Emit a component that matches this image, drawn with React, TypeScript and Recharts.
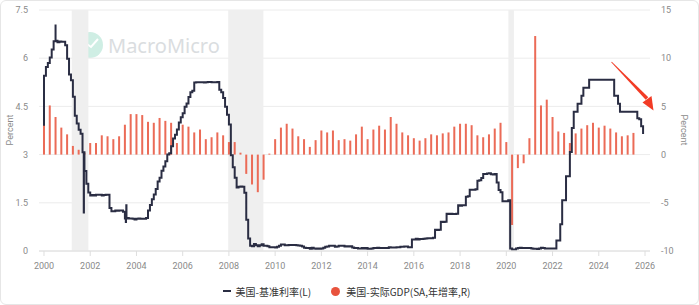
import React from "react";
import {
  ComposedChart,
  Bar,
  Line,
  XAxis,
  YAxis,
  CartesianGrid,
  ReferenceArea,
  Legend,
} from "recharts";

// monthly effective fed funds rate, Jan 2000 .. Dec 2025 (left axis, %)
const fedFunds = [
  5.45, 5.73, 5.85, 6.02, 6.27, 6.53, 6.54, 6.5, 6.52, 6.51, 6.51, 6.4,
  5.98, 5.49, 5.31, 4.8, 4.21, 3.97, 3.77, 3.65, 3.07, 2.49, 2.09, 1.82,
  1.73, 1.74, 1.73, 1.75, 1.75, 1.75, 1.73, 1.74, 1.75, 1.75, 1.34, 1.24,
  1.24, 1.26, 1.25, 1.26, 1.26, 1.22, 1.01, 1.03, 1.01, 1.01, 1.0, 0.98,
  1.0, 1.01, 1.0, 1.0, 1.0, 1.03, 1.26, 1.43, 1.61, 1.76, 1.93, 2.16,
  2.28, 2.5, 2.63, 2.79, 3.0, 3.04, 3.26, 3.5, 3.62, 3.78, 4.0, 4.16,
  4.29, 4.49, 4.59, 4.79, 4.94, 4.99, 5.24, 5.25, 5.25, 5.25, 5.25, 5.24,
  5.25, 5.26, 5.26, 5.25, 5.25, 5.25, 5.26, 5.02, 4.94, 4.76, 4.49, 4.24,
  3.94, 2.98, 2.61, 2.28, 1.98, 2.0, 2.01, 2.0, 1.81, 0.97, 0.39, 0.16,
  0.15, 0.22, 0.18, 0.15, 0.18, 0.21, 0.16, 0.16, 0.15, 0.12, 0.12, 0.12,
  0.11, 0.13, 0.16, 0.2, 0.2, 0.18, 0.18, 0.19, 0.19, 0.19, 0.19, 0.18,
  0.17, 0.16, 0.14, 0.1, 0.09, 0.09, 0.07, 0.1, 0.08, 0.07, 0.08, 0.07,
  0.08, 0.1, 0.13, 0.14, 0.16, 0.16, 0.16, 0.13, 0.14, 0.16, 0.16, 0.16,
  0.14, 0.15, 0.14, 0.15, 0.11, 0.09, 0.09, 0.08, 0.08, 0.09, 0.08, 0.09,
  0.07, 0.07, 0.08, 0.09, 0.09, 0.1, 0.09, 0.09, 0.09, 0.09, 0.09, 0.12,
  0.11, 0.11, 0.11, 0.12, 0.12, 0.13, 0.13, 0.14, 0.14, 0.12, 0.12, 0.36,
  0.36, 0.38, 0.36, 0.37, 0.37, 0.38, 0.39, 0.4, 0.4, 0.4, 0.41, 0.66,
  0.65, 0.66, 0.91, 0.9, 0.91, 1.16, 1.15, 1.16, 1.15, 1.15, 1.16, 1.42,
  1.41, 1.42, 1.42, 1.69, 1.7, 1.91, 1.91, 1.91, 1.92, 2.19, 2.2, 2.27,
  2.4, 2.4, 2.41, 2.42, 2.39, 2.38, 2.4, 2.13, 1.9, 1.83, 1.55, 1.55,
  1.55, 1.58, 0.08, 0.05, 0.05, 0.08, 0.09, 0.1, 0.09, 0.09, 0.09, 0.09,
  0.09, 0.08, 0.07, 0.07, 0.06, 0.08, 0.1, 0.09, 0.08, 0.08, 0.08, 0.08,
  0.08, 0.08, 0.33, 0.33, 0.83, 1.58, 1.58, 2.33, 2.33, 3.08, 3.83, 4.33,
  4.33, 4.58, 4.58, 4.83, 5.08, 5.08, 5.08, 5.33, 5.33, 5.33, 5.33, 5.33,
  5.33, 5.33, 5.33, 5.33, 5.33, 5.33, 5.33, 5.33, 4.83, 4.83, 4.58, 4.33,
  4.33, 4.33, 4.33, 4.33, 4.33, 4.33, 4.33, 4.33, 4.13, 4.1, 3.88, 3.64,
];

// single-day extremes visible in the line: [decimal year, rate]
const dailyExtremes = [
  [2000.0, 3.9],
  [2000.5, 7.05],
  [2001.72, 1.2],
  [2003.54, 0.9],
  [2003.56, 1.42],
];

// real GDP, SA, year-over-year %, 2000Q1 .. 2025Q3 (right axis)
const gdpYoY = [
  4.0, 5.1, 3.9, 2.8,
  2.1, 0.9, 0.5, 0.2,
  1.2, 1.2, 2.0, 1.9,
  1.6, 1.9, 3.1, 4.2,
  4.2, 4.1, 3.4, 3.3,
  3.8, 3.5, 3.3, 1.2,
  3.1, 2.9, 2.3, 2.6,
  1.6, 1.8, 2.3, 2.0,
  1.3, 1.3, 0.2, -2.0,
  -3.1, -3.9, -2.6, 0.1,
  1.6, 2.8, 3.2, 2.7,
  1.9, 1.6, 0.8, 1.5,
  2.5, 2.3, 2.5, 1.5,
  1.6, 1.45, 2.1, 2.9,
  1.6, 2.6, 3.0, 2.6,
  3.9, 3.2, 2.3, 2.0,
  1.7, 1.45, 1.7, 2.1,
  2.0, 2.2, 2.3, 2.9,
  3.2, 3.2, 3.05, 2.0,
  1.8, 2.1, 2.7, 3.3,
  1.3, -7.3, -1.4, -0.9,
  1.7, 12.3, 5.1, 5.7,
  3.9, 2.4, 2.25, 1.2,
  2.2, 2.7, 3.05, 3.3,
  2.8, 3.0, 2.7, 2.3,
  1.9, 2.0, 2.25,
];

// US recessions (shaded), decimal years
const recessions = [
  [2001.2, 2001.92],
  [2007.97, 2009.49],
  [2020.09, 2020.33],
];

const yearTicks = [2000, 2002, 2004, 2006, 2008, 2010, 2012, 2014, 2016, 2018, 2020, 2022, 2024, 2026];
const leftTicks = [0, 1.5, 3, 4.5, 6, 7.5];
const rightTicks = [-10, -5, 0, 5, 10, 15];

const rateName = "美国-基准利率(L)";
const gdpName = "美国-实际GDP(SA,年增率,R)";

const LINE_COLOR = "#2a2d43";
const BAR_COLOR = "#eb6b57";
const CJK = "'Noto Sans CJK SC', 'Noto Sans', sans-serif";
const TICK = { fontSize: 9, fill: "#8a8a8a", fontFamily: "Roboto, sans-serif" };

function buildRateRows() {
  const rows: any[] = fedFunds.map((v, i) => ({ t: 2000 + i / 12, rate: v, k: 1 }));
  dailyExtremes.forEach(([t, v]) => {
    const idx = Math.min(fedFunds.length - 1, Math.floor((t - 2000) * 12 + 1e-9));
    rows.push({ t, rate: v, k: 0 });
    rows.push({ t: t + 0.008, rate: fedFunds[idx], k: 2 });
  });
  rows.sort((a, b) => a.t - b.t || a.k - b.k);
  return rows;
}

// bars keep their scaled centre and height, drawn 2px wide
const ThinBar = (p: any) => {
  if (p.x == null || p.height == null) return null;
  const cx = p.x + p.width / 2;
  const y = Math.min(p.y, p.y + p.height);
  const h = Math.abs(p.height);
  return <rect x={cx - 1} y={y} width={2} height={h} fill={BAR_COLOR} />;
};

const LegendContent = () => (
  <div
    style={{
      display: "flex",
      justifyContent: "center",
      alignItems: "center",
      height: 20,
      paddingBottom: 4,
      fontSize: 10,
      color: "#333",
      fontFamily: CJK,
      paddingRight: 6,
    }}
  >
    <span style={{ display: "inline-block", width: 8, height: 2, background: LINE_COLOR, marginRight: 5 }} />
    <span>{rateName}</span>
    <span
      style={{
        display: "inline-block",
        width: 9,
        height: 9,
        borderRadius: "50%",
        background: "#e8533d",
        marginLeft: 20,
        marginRight: 6,
      }}
    />
    <span>{gdpName}</span>
  </div>
);

export default function App() {
  const gdpRows = gdpYoY.map((v, i) => ({ t: 2000 + i * 0.25, gdp: v }));
  const rateRows = buildRateRows();

  return (
    <div style={{ position: "absolute", left: 0, top: 0, width: 699, height: 305, background: "#fff" }}>
      {/* watermark */}
      <svg width={699} height={305} style={{ position: "absolute", left: 0, top: 0 }}>
        <circle cx={90} cy={45} r={13} fill="#cfeee4" />
        <polyline points="82,50 87,44 91,47 98,39" fill="none" stroke="#fff" strokeWidth={2} />
        <text x={108} y={53} fontSize={20} fill="#dadde0" fontFamily="'Noto Sans', sans-serif">
          MacroMicro
        </text>
      </svg>

      <div style={{ position: "absolute", left: 0, top: 0 }}>
        <ComposedChart width={699} height={305} data={gdpRows} margin={{ top: 10, right: 0, bottom: 0, left: 0 }}>
          <CartesianGrid vertical={false} yAxisId="left" stroke="#ececec" />
          {recessions.map(([a, b], i) => (
            <ReferenceArea
              key={i}
              x1={a}
              x2={b}
              y1={0}
              y2={7.5}
              yAxisId="left"
              fill="#efefef"
              fillOpacity={1}
              stroke="none"
            />
          ))}
          <XAxis
            dataKey="t"
            type="number"
            domain={[1999.784, 2026.216]}
            allowDataOverflow
            ticks={yearTicks}
            interval={0}
            tick={TICK}
            tickSize={5}
            tickMargin={7}
            stroke="#dedede"
            height={30}
          />
          <YAxis
            yAxisId="left"
            domain={[0, 7.5]}
            ticks={leftTicks}
            axisLine={false}
            tickLine={false}
            tickSize={0}
            tickMargin={11}
            width={39}
            tick={TICK}
          />
          <YAxis
            yAxisId="right"
            orientation="right"
            domain={[-10, 15]}
            ticks={rightTicks}
            axisLine={false}
            tickLine={false}
            tickSize={0}
            tickMargin={11}
            width={49}
            tick={TICK}
          />
          <Bar
            yAxisId="right"
            dataKey="gdp"
            name={gdpName}
            fill={BAR_COLOR}
            barSize={2}
            shape={ThinBar}
            isAnimationActive={false}
          />
          <Line
            yAxisId="left"
            data={rateRows}
            dataKey="rate"
            name={rateName}
            type="stepAfter"
            stroke={LINE_COLOR}
            strokeWidth={2}
            dot={false}
            activeDot={false}
            isAnimationActive={false}
          />
          <Legend verticalAlign="bottom" height={24} content={<LegendContent />} />
        </ComposedChart>
      </div>

      {/* axis titles and annotation arrow */}
      <svg width={699} height={305} style={{ position: "absolute", left: 0, top: 0, pointerEvents: "none" }}>
        <text x={12.5} y={130} transform="rotate(-90 12.5 130)" textAnchor="middle" fontSize={9} fill="#8a8a8a" fontFamily="Roboto, sans-serif">
          Percent
        </text>
        <text x={680.5} y={130} transform="rotate(90 680.5 130)" textAnchor="middle" fontSize={9} fill="#8a8a8a" fontFamily="Roboto, sans-serif">
          Percent
        </text>
        <polygon points="611.2,62.3 611.8,61.7 648.3,97.3 645.7,99.8" fill="#f23b25" />
        <polygon points="642.5,102.5 651.5,96 653.5,110.5" fill="#f23b25" />
      </svg>

      <div
        style={{
          position: "absolute",
          left: 0,
          top: 0,
          width: 699,
          height: 305,
          boxSizing: "border-box",
          border: "1px solid #e6e6e6",
          borderRadius: 6,
          pointerEvents: "none",
        }}
      />
    </div>
  );
}
